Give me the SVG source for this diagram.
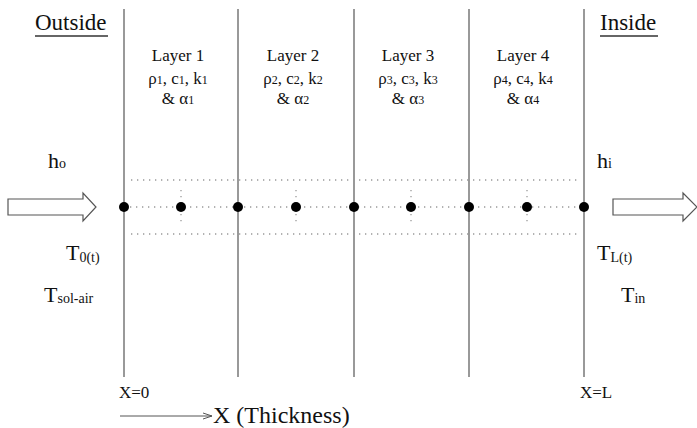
<svg xmlns="http://www.w3.org/2000/svg" width="697" height="428" viewBox="0 0 697 428" font-family="'Liberation Serif', 'Times New Roman', 'DejaVu Serif', serif">
<style>
text{font-family:'Liberation Serif','Times New Roman','DejaVu Serif',serif;fill:#111}
.wall{stroke:#777;stroke-width:1.5}
.dot{stroke:#999;stroke-width:1.3;stroke-dasharray:1.3 4.7;fill:none}
.node{fill:#000}
.big{font-size:23px}
.lay{font-size:17px;text-anchor:middle}
.sub{font-size:12px}
.var{font-size:22px}
.vsub{font-size:14px}
.arrow{fill:#fff;stroke:#555;stroke-width:1.2}
</style>
<defs>
<marker id="open" markerWidth="10" markerHeight="8" refX="9" refY="4" orient="auto" markerUnits="userSpaceOnUse">
<path d="M0,1 L9,4 L0,7" fill="none" stroke="#555" stroke-width="1"/>
</marker>
</defs>
<g id="walls">
<line class="wall" x1="124" y1="9" x2="124" y2="377"/>
<line class="wall" x1="238" y1="9" x2="238" y2="377"/>
<line class="wall" x1="354" y1="9" x2="354" y2="377"/>
<line class="wall" x1="469" y1="9" x2="469" y2="377"/>
<line class="wall" x1="584" y1="9" x2="584" y2="377"/>
</g>
<g id="connectors">
<line class="dot" x1="131" y1="180" x2="578" y2="180"/>
<line class="dot" x1="124" y1="207" x2="584" y2="207"/>
<line class="dot" x1="131" y1="234" x2="578" y2="234"/>
<line class="dot" x1="181" y1="190" x2="181" y2="225"/>
<line class="dot" x1="296" y1="190" x2="296" y2="225"/>
<line class="dot" x1="411" y1="190" x2="411" y2="225"/>
<line class="dot" x1="527" y1="190" x2="527" y2="225"/>
<line x1="120" y1="416" x2="212" y2="416" stroke="#555" stroke-width="1" marker-end="url(#open)"/>
</g>
<g id="nodes">
<circle class="node" cx="124" cy="207" r="5"/>
<circle class="node" cx="181" cy="207" r="5"/>
<circle class="node" cx="238" cy="207" r="5"/>
<circle class="node" cx="296" cy="207" r="5"/>
<circle class="node" cx="354" cy="207" r="5"/>
<circle class="node" cx="411" cy="207" r="5"/>
<circle class="node" cx="469" cy="207" r="5"/>
<circle class="node" cx="527" cy="207" r="5"/>
<circle class="node" cx="584" cy="207" r="5"/>
</g>
<g id="arrow-in">
<path class="arrow" d="M8,199 L83,199 L83,193 L96,207 L83,221 L83,215 L8,215 Z"/>
</g>
<g id="arrow-out">
<path class="arrow" d="M613,199 L683,199 L683,193 L697,207 L683,221 L683,215 L613,215 Z"/>
</g>
<g id="outside">
<text class="big" x="35" y="30" font-size="24">Outside</text>
<line x1="35" y1="36" x2="108" y2="36" stroke="#333" stroke-width="1.3"/>
</g>
<g id="inside">
<text class="big" x="600" y="30" font-size="24">Inside</text>
<line x1="600" y1="36" x2="658" y2="36" stroke="#333" stroke-width="1.3"/>
</g>
<g id="layer1">
<text class="lay" x="178" y="61">Layer 1</text>
<text class="lay" x="178" y="84">ρ<tspan class="sub">1</tspan>, c<tspan class="sub">1</tspan>, k<tspan class="sub">1</tspan></text>
<text class="lay" x="178" y="104">&amp;  α<tspan class="sub">1</tspan></text>
</g>
<g id="layer2">
<text class="lay" x="293" y="61">Layer 2</text>
<text class="lay" x="293" y="84">ρ<tspan class="sub">2</tspan>, c<tspan class="sub">2</tspan>, k<tspan class="sub">2</tspan></text>
<text class="lay" x="293" y="104">&amp;  α<tspan class="sub">2</tspan></text>
</g>
<g id="layer3">
<text class="lay" x="408" y="61">Layer 3</text>
<text class="lay" x="408" y="84">ρ<tspan class="sub">3</tspan>, c<tspan class="sub">3</tspan>, k<tspan class="sub">3</tspan></text>
<text class="lay" x="408" y="104">&amp;  α<tspan class="sub">3</tspan></text>
</g>
<g id="layer4">
<text class="lay" x="523" y="61">Layer 4</text>
<text class="lay" x="523" y="84">ρ<tspan class="sub">4</tspan>, c<tspan class="sub">4</tspan>, k<tspan class="sub">4</tspan></text>
<text class="lay" x="523" y="104">&amp;  α<tspan class="sub">4</tspan></text>
</g>
<g id="labels-left">
<text class="var" x="48" y="168">h<tspan class="vsub">o</tspan></text>
<text class="var" x="66" y="260">T<tspan class="vsub" dy="2">0(t)</tspan></text>
<text class="var" x="44" y="302">T<tspan class="vsub" dy="1">sol-air</tspan></text>
</g>
<g id="labels-right">
<text class="var" x="597" y="168">h<tspan class="vsub">i</tspan></text>
<text class="var" x="597" y="260">T<tspan class="vsub" dy="2">L(t)</tspan></text>
<text class="var" x="621" y="302">T<tspan class="vsub" dy="1">in</tspan></text>
</g>
<g id="axis">
<text x="119" y="398" font-size="17">X=0</text>
<text x="580" y="398" font-size="17">X=L</text>
<text x="213" y="423" font-size="24">X (Thickness)</text>
</g>
</svg>
